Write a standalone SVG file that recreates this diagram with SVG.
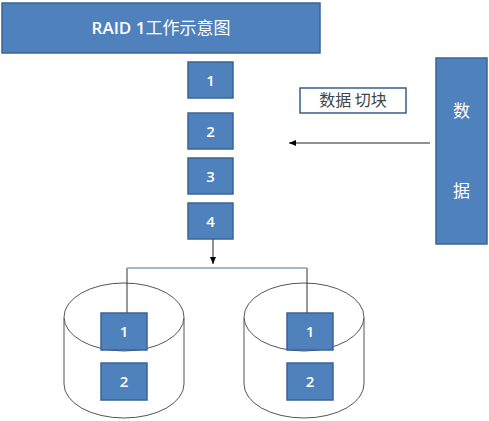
<svg xmlns="http://www.w3.org/2000/svg" width="489" height="421" viewBox="0 0 489 421">
<style>
.b{fill:#4F81BD;stroke:#3A6594;stroke-width:1.5}
.t{fill:#fff;font-family:"Open Sans","Noto Sans CJK SC",sans-serif;font-size:15px;font-weight:600;text-anchor:middle}
.big{font-size:17px}
.cj{font-weight:400}
.cy{fill:#fff;stroke:#555;stroke-width:1}
.ln{fill:none;stroke:#222;stroke-width:1}
</style>
<defs>
<marker id="ar" markerWidth="8" markerHeight="8" refX="7" refY="4" orient="auto" markerUnits="userSpaceOnUse">
<path d="M0,1 L7,4 L0,7 Z" fill="#000"/>
</marker>
</defs>
<rect width="489" height="421" fill="#fff"/>
<g id="title"><rect class="b" x="2" y="3" width="318" height="50"/><text class="t big" x="161" y="34">RAID 1<tspan class="cj">工作示意图</tspan></text></g>
<g id="cyl1">
<path class="cy" d="M64,318 L64,384 A60,34 0 0 0 184,384 L184,318"/>
<ellipse class="cy" cx="124" cy="317" rx="60" ry="34"/>
</g>
<g id="cyl2">
<path class="cy" d="M244,318 L244,384 A60,34 0 0 0 364,384 L364,318"/>
<ellipse class="cy" cx="304" cy="317" rx="60" ry="34"/>
</g>
<g id="connectors">
<line class="ln" x1="430" y1="143" x2="289" y2="143" marker-end="url(#ar)"/>
<line class="ln" x1="213" y1="239" x2="213" y2="264" marker-end="url(#ar)"/>
<polyline points="127,313 127,268 307,268 307,313" fill="none" stroke="#333" stroke-width="1"/>
<line x1="127" y1="268" x2="307" y2="268" stroke="#A7C0DE" stroke-width="1.5"/>
</g>
<g id="b1"><rect class="b" x="188" y="62" width="45" height="36"/><text class="t" x="210.5" y="86">1</text></g>
<g id="b2"><rect class="b" x="188" y="113" width="45" height="36"/><text class="t" x="210.5" y="137">2</text></g>
<g id="b3"><rect class="b" x="188" y="158" width="45" height="36"/><text class="t" x="210.5" y="182">3</text></g>
<g id="b4"><rect class="b" x="188" y="203" width="45" height="36"/><text class="t" x="210.5" y="227">4</text></g>
<g id="split"><rect x="300" y="88" width="106" height="25" fill="#fff" stroke="#385D8A" stroke-width="1.5"/><text x="353" y="106" font-family="'Noto Sans CJK SC',sans-serif" font-size="16" fill="#444" text-anchor="middle">数据 切块</text></g>
<g id="data"><rect class="b" x="436" y="58" width="51" height="186"/><text class="t big cj" x="461.5" y="117">数</text><text class="t big cj" x="461.5" y="197">据</text></g>
<g id="d1b1"><rect class="b" x="101" y="313" width="46" height="37"/><text class="t" x="124" y="337">1</text></g>
<g id="d1b2"><rect class="b" x="101" y="363" width="46" height="37"/><text class="t" x="124" y="387">2</text></g>
<g id="d2b1"><rect class="b" x="287" y="313" width="46" height="37"/><text class="t" x="310" y="337">1</text></g>
<g id="d2b2"><rect class="b" x="287" y="363" width="46" height="37"/><text class="t" x="310" y="387">2</text></g>
</svg>
